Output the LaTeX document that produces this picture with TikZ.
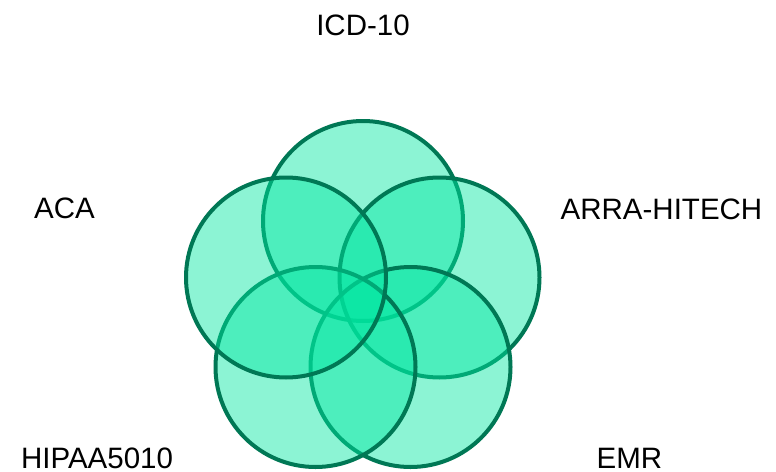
\documentclass[tikz,border=0pt]{standalone}
\usepackage{fontspec}
\setmainfont{Liberation Sans}
\definecolor{setfill}{RGB}{0,230,160}
\definecolor{setline}{RGB}{0,120,85}
\tikzset{
  vennset/.style={draw=setline, line width=4pt, fill=setfill, fill opacity=0.45,
    shape=circle, minimum size=200pt, inner sep=0pt},
  setlabel/.style={anchor=base, inner sep=0pt, font=\fontsize{29.5}{34}\selectfont}
}
\begin{document}
\begin{tikzpicture}[x=1pt, y=-1pt]
            \useasboundingbox (0,0) rectangle (776,471);

            \node[vennset] (ICD) at (363, 221) {};
            \node[vennset] (ARRA) at (439.5, 277.5) {};
            \node[vennset] (EMR) at (410.5, 367) {};
            \node[vennset] (HIPAA) at (315.5, 367) {};
            \node[vennset] (ACA) at (286, 277.5) {};

            \node[setlabel] (ICDlabel) at (363, 35) {ICD-10};
            \node[setlabel] (ARRAlabel) at (661.5, 219.3) {ARRA-HITECH};
            \node[setlabel] (EMRlabel) at (629.5, 468) {EMR};
            \node[setlabel] (HIPAAlabel) at (97, 468) {HIPAA5010};
            \node[setlabel] (ACAlabel) at (64.5, 218.3) {ACA};
        \end{tikzpicture}
\end{document}
